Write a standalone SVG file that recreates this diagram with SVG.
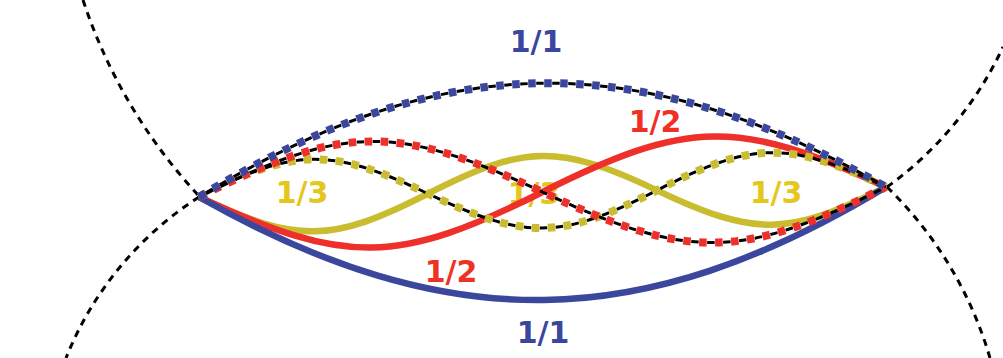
<svg xmlns="http://www.w3.org/2000/svg" width="1003" height="358" viewBox="0 0 1003 358">
<style>
.lbl{font-family:"DejaVu Sans",Verdana,sans-serif;font-weight:bold;font-size:30px;text-anchor:middle}
.circ{fill:none;stroke:#000;stroke-width:3;stroke-dasharray:7 6}
.solid{fill:none;stroke-width:6.5;stroke-linecap:butt}
.dotc{fill:none;stroke-width:8;stroke-dasharray:7.5 8.5}
.dotk{fill:none;stroke:#000;stroke-width:3;stroke-dasharray:7.5 8.5;stroke-dashoffset:8}
.blue{stroke:#3b479d}
.red{stroke:#ee2f2a}
.yel{stroke:#c9bc2f}
</style>
<rect width="1003" height="358" fill="#fff"/>
<g id="labels">
<text class="lbl" x="536" y="52" fill="#3b479d">1/1</text>
<text class="lbl" x="543" y="343" fill="#3b479d">1/1</text>
<text class="lbl" x="655" y="132" fill="#ee3124">1/2</text>
<text class="lbl" x="451" y="282" fill="#ee3124">1/2</text>
<text class="lbl" x="302" y="203" fill="#e4c61c">1/3</text>
<text class="lbl" x="534" y="204" fill="#e4c61c">1/3</text>
<text class="lbl" x="776" y="203" fill="#e4c61c">1/3</text>
</g>
<g id="circles">
<path class="circ" d="M83 0 A530 530 0 0 0 199 196"/>
<path class="circ" d="M887 187 A360 360 0 0 0 1003 47"/>
<path class="circ" d="M199 197 A342 342 0 0 0 66 358"/>
<path class="circ" d="M887 187 A391 391 0 0 1 990 358"/>
</g>
<g id="connectors" transform="translate(199 197) rotate(-0.834)">
<g id="yellow-solid"><path class="solid yel" d="M0 0 C97.2 48 131.8 48 229 0 C326.2 -48 360.8 -48 458 0 C555.2 48 589.8 48 687 0"/></g>
<g id="red-solid"><path class="solid red" d="M0 0 C145.8 70.7 197.7 70.7 343.5 0 C489.3 -70.7 541.2 -70.7 687 0"/></g>
<g id="blue-solid"><path class="solid blue" d="M0 0 C247 144 440 144 687 0"/></g>
<g id="yellow-dotted">
<path class="dotc yel" d="M0 0 C97.2 -48 131.8 -48 229 0 C326.2 48 360.8 48 458 0 C555.2 -48 589.8 -48 687 0"/>
<path class="dotk" d="M0 0 C97.2 -48 131.8 -48 229 0 C326.2 48 360.8 48 458 0 C555.2 -48 589.8 -48 687 0"/>
</g>
<g id="red-dotted">
<path class="dotc red" d="M0 0 C145.8 -70.7 197.7 -70.7 343.5 0 C489.3 70.7 541.2 70.7 687 0"/>
<path class="dotk" d="M0 0 C145.8 -70.7 197.7 -70.7 343.5 0 C489.3 70.7 541.2 70.7 687 0"/>
</g>
<g id="blue-dotted">
<path class="dotc blue" d="M0 0 C247 -145 440 -145 687 0"/>
<path class="dotk" d="M0 0 C247 -145 440 -145 687 0"/>
</g>
</g>
</svg>
